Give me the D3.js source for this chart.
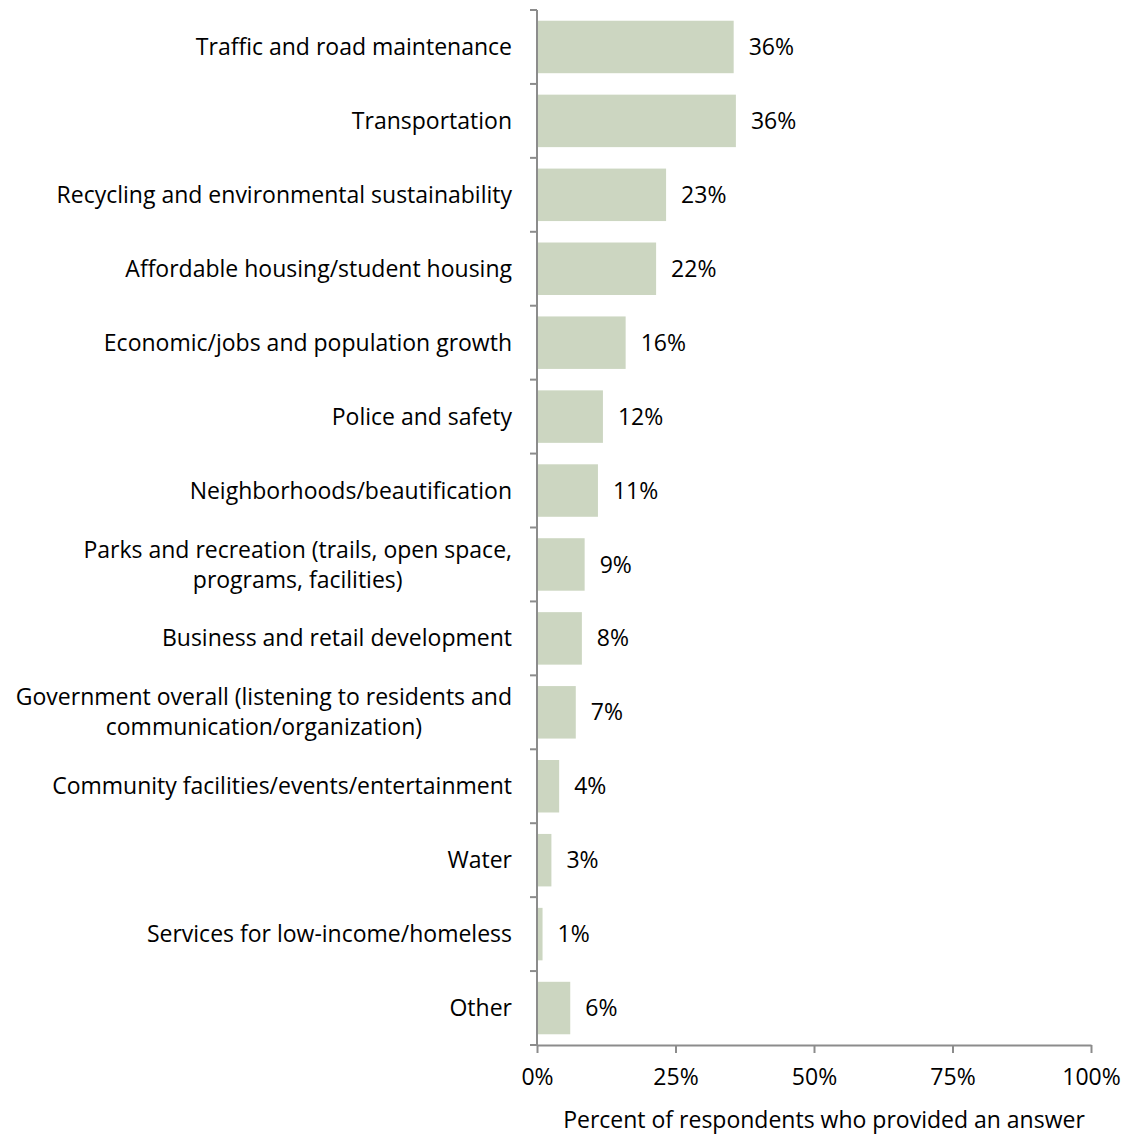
<!DOCTYPE html>
<html>
<head>
<meta charset="utf-8">
<script src="https://cdn.jsdelivr.net/npm/d3@7"></script>
<style>
  html, body { margin: 0; padding: 0; background: #ffffff; }
  svg text { font-family: "Open Sans", Lato, sans-serif; fill: #000; }
</style>
</head>
<body>
<svg id="chart" width="1124" height="1137"></svg>
<script>
// Issue categories (multi-line labels use "\n")
const categories = [
  "Traffic and road maintenance",
  "Transportation",
  "Recycling and environmental sustainability",
  "Affordable housing/student housing",
  "Economic/jobs and population growth",
  "Police and safety",
  "Neighborhoods/beautification",
  "Parks and recreation (trails, open space,\nprograms, facilities)",
  "Business and retail development",
  "Government overall (listening to residents and\ncommunication/organization)",
  "Community facilities/events/entertainment",
  "Water",
  "Services for low-income/homeless",
  "Other"
];

// Percent of respondents mentioning each issue
const values = [35.5, 35.9, 23.3, 21.5, 16.0, 11.9, 11.0, 8.6, 8.1, 7.0, 4.0, 2.6, 1.0, 6.0];

const xTicks = [0, 25, 50, 75, 100];
const xTitle = "Percent of respondents who provided an answer";

const svg = d3.select("#chart");
const plotLeft = 537, plotRight = 1091, plotTop = 10, plotBottom = 1045;
const axisColor = "#8c8c8c";
const barColor = "#ccd6c1";
const fontSize = 23;
const fontFamily = "'Open Sans', Lato, sans-serif";

const x = d3.scaleLinear().domain([0, 100]).range([plotLeft, plotRight]);
const y = d3.scaleBand().domain(categories).range([plotTop, plotBottom]).paddingInner(0).paddingOuter(0);
const barH = y.bandwidth() * 0.71;

// Bars
svg.append("g").selectAll("rect")
  .data(categories)
  .join("rect")
  .attr("x", x(0))
  .attr("y", d => y(d) + (y.bandwidth() - barH) / 2)
  .attr("width", (d, i) => x(values[i]) - x(0))
  .attr("height", barH)
  .attr("fill", barColor);

// Value labels
svg.append("g").selectAll("text")
  .data(categories)
  .join("text")
  .attr("x", (d, i) => x(values[i]) + 15)
  .attr("y", d => y(d) + y.bandwidth() / 2)
  .attr("dy", "0.35em")
  .attr("font-size", fontSize)
  .text((d, i) => Math.round(values[i]) + "%");

// Vertical axis line with ticks at category boundaries
const yAxis = svg.append("g");
yAxis.append("line")
  .attr("x1", plotLeft).attr("x2", plotLeft)
  .attr("y1", plotTop).attr("y2", plotBottom)
  .attr("stroke", axisColor).attr("stroke-width", 2);
const boundaries = categories.map(d => y(d)).concat([plotBottom]);
yAxis.selectAll("line.tick")
  .data(boundaries)
  .join("line")
  .attr("class", "tick")
  .attr("x1", plotLeft - 7).attr("x2", plotLeft)
  .attr("y1", d => d).attr("y2", d => d)
  .attr("stroke", axisColor).attr("stroke-width", 2);

// Category labels, right-aligned block, lines centered against each other
const lineGap = 30;
const labelRight = 512;
const labelG = svg.append("g");
categories.forEach(c => {
  const lines = c.split("\n");
  const cy = y(c) + y.bandwidth() / 2;
  const g = labelG.append("g");
  const texts = lines.map((ln, j) => g.append("text")
    .attr("y", cy + (j - (lines.length - 1) / 2) * lineGap)
    .attr("dy", "0.35em")
    .attr("font-size", fontSize)
    .text(ln));
  const widths = texts.map(t => t.node().getComputedTextLength());
  const maxW = Math.max(...widths);
  const centerX = labelRight - maxW / 2;
  texts.forEach(t => t.attr("x", centerX).attr("text-anchor", "middle"));
});

// Horizontal axis
const xAxis = d3.axisBottom(x)
  .tickValues(xTicks)
  .tickFormat(d => d + "%")
  .tickSizeInner(8)
  .tickSizeOuter(0)
  .tickPadding(16);
const xg = svg.append("g")
  .attr("transform", `translate(0,${plotBottom})`)
  .call(xAxis);
xg.select(".domain").attr("stroke", axisColor).attr("stroke-width", 2);
xg.selectAll(".tick line").attr("stroke", axisColor).attr("stroke-width", 2);
xg.selectAll(".tick text")
  .attr("font-size", fontSize)
  .attr("font-family", fontFamily)
  .attr("fill", "#000");

// Axis title, sitting slightly right of the plot centre
svg.append("text")
  .attr("x", (plotLeft + plotRight) / 2 + 10)
  .attr("y", 1120)
  .attr("dy", "0.35em")
  .attr("text-anchor", "middle")
  .attr("font-size", fontSize)
  .text(xTitle);
</script>
</body>
</html>
